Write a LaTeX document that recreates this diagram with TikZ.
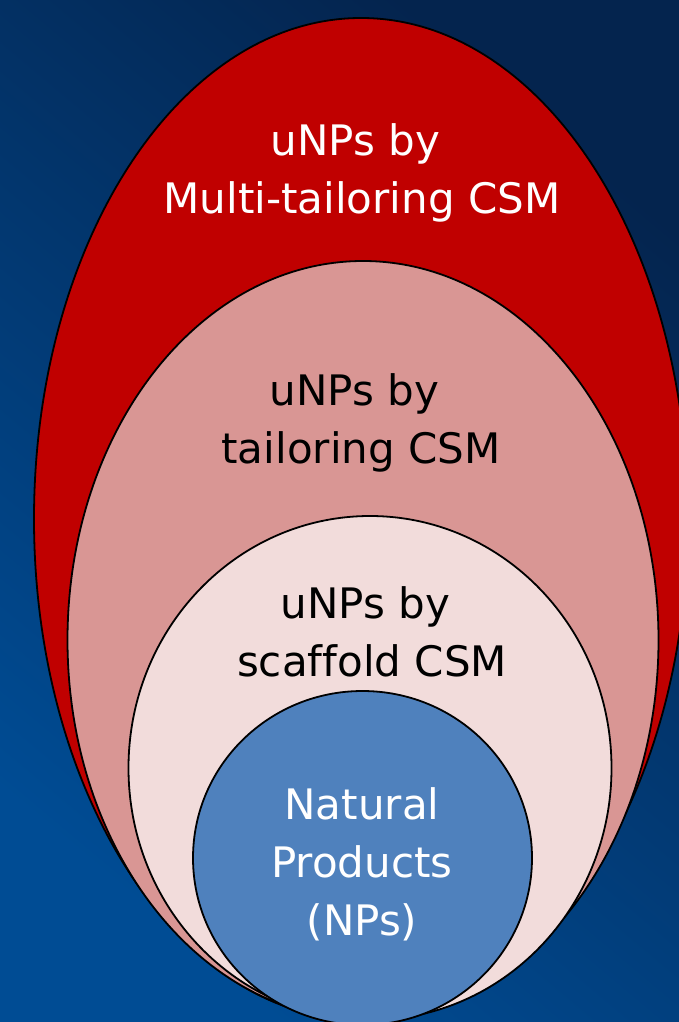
\documentclass[tikz,border=0pt]{standalone}
\usepackage{fontspec}
\setmainfont[Ligatures=NoCommon]{DejaVu Sans}
\definecolor{bgdark}{RGB}{4,36,78}
\definecolor{bglight}{RGB}{0,76,148}
\definecolor{redfill}{RGB}{192,0,0}
\definecolor{pinkfill}{RGB}{217,150,148}
\definecolor{lightpink}{RGB}{242,220,219}
\definecolor{npblue}{RGB}{79,129,189}
\tikzset{
  ring/.style={draw=black, line width=1.8pt},
  lbl/.style={align=center, inner sep=0pt, anchor=base, font=\fontsize{42}{58}\selectfont},
}
\begin{document}
\begin{tikzpicture}[x=1pt, y=-1pt]
\useasboundingbox (0,0) rectangle (679,1022);
\clip (0,0) rectangle (679,1022);
\shade[shading=axis, top color=bgdark, bottom color=bglight, shading angle=-40] (0,0) rectangle (679,1022);
\path[ring, fill=redfill] (361,519) ellipse [x radius=327pt, y radius=501pt];
\path[ring, fill=pinkfill] (363,640) ellipse [x radius=295.5pt, y radius=379pt];
\path[ring, fill=lightpink] (370,768) ellipse [x radius=241.5pt, y radius=252pt];
\path[ring, fill=npblue] (362.5,858) ellipse [x radius=169.5pt, y radius=167pt];
\node[lbl, text=white] (multi) at (362,213) {uNPs by\hbox to 0.318em{}\\Multi-tailoring CSM};
\node[lbl, text=black] (tail) at (361,463) {uNPs by\hbox to 0.318em{}\\tailoring CSM};
\node[lbl, text=black] (scaf) at (372,676) {uNPs by\hbox to 0.318em{}\\scaffold CSM};
\node[lbl, text=white] (nat) at (362,935) {Natural\\Products\\(NPs)};
\end{tikzpicture}
\end{document}
